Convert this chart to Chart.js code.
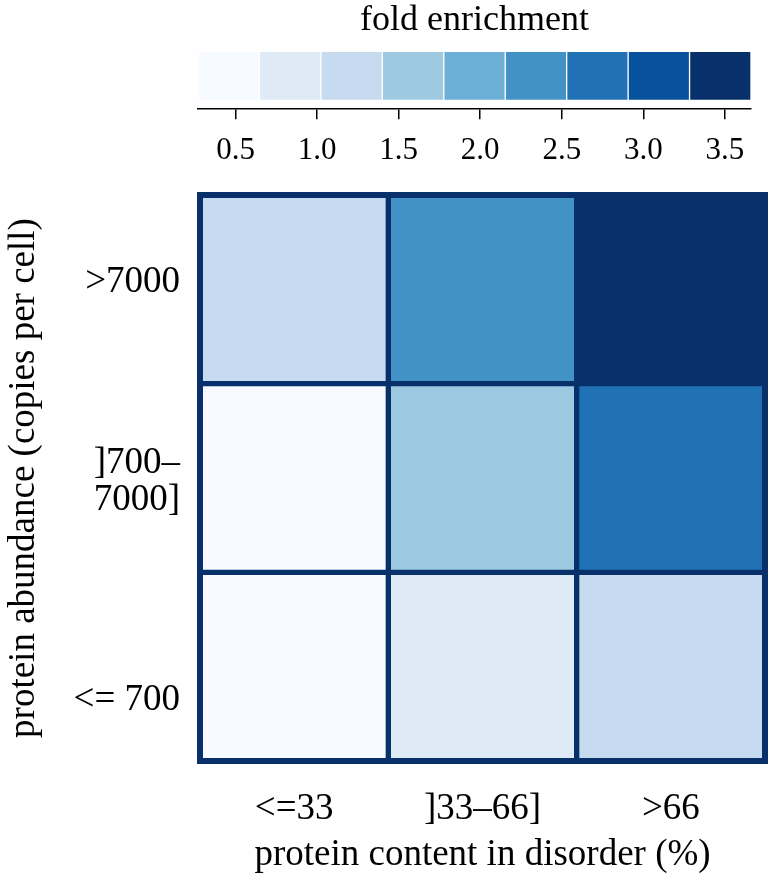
<!DOCTYPE html>
<html>
<head>
<meta charset="utf-8">
<script src="https://cdn.jsdelivr.net/npm/chart.js@4/dist/chart.umd.min.js"></script>
<style>
  html, body { margin: 0; padding: 0; background: #fff; }
  #bar { position: absolute; left: 0; top: 0; }
  #heat { position: absolute; left: 0; top: 190px; }
</style>
</head>
<body>
<canvas id="bar" width="768" height="190"></canvas>
<canvas id="heat" width="768" height="687"></canvas>
<script>
// columns: disorder content, rows: abundance (bottom to top)
const colLabels = ['<=33', ']33–66]', '>66'];
const rowLabels = ['<= 700', [']700–', '7000]'], '>7000'];
const rowTickAt = [0.32, 1.48, 2.54];

// fold enrichment per row (bottom to top), per column
const lowAbund = [0.27, 0.85, 1.25];
const midAbund = [0.45, 1.6, 2.75];
const highAbund = [1.2, 2.4, 3.66];
const rows = [lowAbund, midAbund, highAbund];

const cbTicks = [0.5, 1.0, 1.5, 2.0, 2.5, 3.0, 3.5];
const blues = ['#f7fbff', '#deebf7', '#c6dbef', '#9ecae1', '#6baed6',
               '#4292c6', '#2171b5', '#08519c', '#08306b'];

const all = rows.flat();
const cbMin = Math.min(...all);
const cbMax = Math.max(...all);
const step = (cbMax - cbMin) / blues.length;

function colorFor(v) {
  let i = Math.floor((v - cbMin) / step);
  if (i < 0) i = 0;
  if (i > blues.length - 1) i = blues.length - 1;
  return blues[i];
}

const serif = 'Liberation Serif';
const navy = '#08306b';
Chart.defaults.font.family = serif;
Chart.defaults.color = '#000';

// colour bar
new Chart(document.getElementById('bar'), {
  type: 'bar',
  data: {
    labels: [''],
    datasets: blues.map((c, i) => ({
      data: [[cbMin + i * step, cbMin + (i + 1) * step]],
      backgroundColor: c,
      borderColor: '#fff',
      borderWidth: 1,
      borderSkipped: false,
      barThickness: 49,
      grouped: false
    }))
  },
  options: {
    indexAxis: 'y',
    responsive: false,
    animation: false,
    layout: { padding: { left: 198, right: 17, top: 0, bottom: 0 } },
    plugins: { legend: { display: false }, tooltip: { enabled: false } },
    scales: {
      y: { type: 'category', display: false },
      x: {
        type: 'linear',
        position: 'bottom',
        min: cbMin,
        max: cbMax,
        afterBuildTicks: s => { s.ticks = cbTicks.map(v => ({ value: v })); },
        afterFit: s => { s.height = 81.7; },
        grid: { display: true, drawOnChartArea: false, drawTicks: true, tickLength: 11, color: '#000', lineWidth: 1.5 },
        border: { display: true, color: '#000', width: 1.5 },
        ticks: { padding: 15.7, font: { size: 31, lineHeight: 1 }, callback: v => Number(v).toFixed(1), maxRotation: 0 }
      },
      x2: {
        type: 'linear',
        position: 'top',
        min: cbMin,
        max: cbMax,
        afterFit: s => { s.height = 43.3; },
        grid: { display: false },
        border: { display: false },
        ticks: { display: false },
        title: { display: true, text: 'fold enrichment', font: { size: 36, lineHeight: 1 }, padding: { top: 2.5, bottom: 0 } }
      }
    }
  }
});

// heatmap cells as floating bars, one dataset per row
const cellEdge = {
  id: 'cellEdge',
  afterDatasetsDraw(chart) {
    const a = chart.chartArea;
    const ctx = chart.ctx;
    ctx.save();
    ctx.strokeStyle = navy;
    ctx.lineWidth = 6;
    ctx.strokeRect(a.left, a.top, a.right - a.left, a.bottom - a.top);
    ctx.restore();
  }
};

new Chart(document.getElementById('heat'), {
  type: 'bar',
  data: {
    labels: colLabels,
    datasets: rows.map((vals, r) => ({
      data: vals.map(() => [r, r + 1]),
      backgroundColor: vals.map(colorFor),
      borderColor: navy,
      borderWidth: 3,
      borderSkipped: false,
      barPercentage: 1,
      categoryPercentage: 1,
      grouped: false
    }))
  },
  options: {
    responsive: false,
    animation: false,
    layout: { padding: { left: 0, right: 3, top: 5, bottom: 0 } },
    plugins: { legend: { display: false }, tooltip: { enabled: false } },
    scales: {
      x: {
        type: 'category',
        afterFit: s => { s.height = 116; s.paddingLeft = 0; s.paddingRight = 0; },
        grid: { display: false, drawTicks: false, tickLength: 0 },
        border: { display: false },
        ticks: { padding: 29.5, font: { size: 37, lineHeight: 1 }, maxRotation: 0 },
        title: { display: true, text: 'protein content in disorder (%)', font: { size: 37, lineHeight: 1 }, padding: { top: 0, bottom: 3.5 } }
      },
      y: {
        type: 'linear',
        min: 0,
        max: rows.length,
        afterFit: s => { s.width = 200; s.paddingTop = 0; s.paddingBottom = 0; },
        afterBuildTicks: s => { s.ticks = rowTickAt.map(v => ({ value: v })); },
        grid: { display: false, drawTicks: false, tickLength: 0 },
        border: { display: false },
        ticks: {
          padding: 20,
          font: { size: 37, lineHeight: 1 },
          callback: (v, i) => rowLabels[i]
        },
        title: { display: true, text: 'protein abundance (copies per cell)', font: { size: 37, lineHeight: 1 }, padding: { top: 6, bottom: 0 } }
      }
    }
  },
  plugins: [cellEdge]
});
</script>
</body>
</html>
